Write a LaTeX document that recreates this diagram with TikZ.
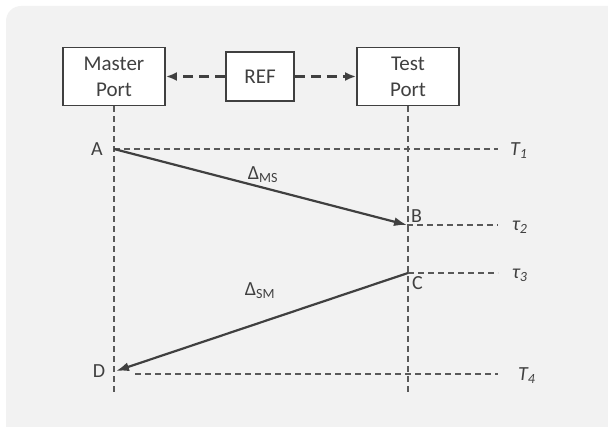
\documentclass[tikz,border=0pt]{standalone}
\usepackage{fontspec}
\setmainfont{Carlito}
\usepackage{tikz}
\usetikzlibrary{positioning}
\usetikzlibrary{arrows.meta}
\definecolor{bggray}{HTML}{F2F2F2}
\definecolor{linegray}{HTML}{404040}
\definecolor{dashgray}{HTML}{595959}

\begin{document}
\begin{tikzpicture}[x=1pt, y=-1pt,
    portnode/.style={rectangle, draw=linegray, fill=white, line width=1.8pt,
      minimum width=102pt, minimum height=58pt, align=center,
      text=linegray, font=\fontsize{21}{26}\selectfont},
    refnode/.style={portnode, minimum width=68pt, minimum height=49pt},
    lifeline/.style={draw=dashgray, line width=1.3pt, dash pattern=on 6pt off 4pt},
    refline/.style={draw=linegray, line width=2.2pt, dash pattern=on 10pt off 6pt,
      -{Latex[length=11pt, width=9pt]}},
    msgline/.style={draw=linegray, line width=2.2pt,
      -{Latex[length=13pt, width=9pt]}},
    pointlabel/.style={text=linegray, inner sep=1pt, font=\fontsize{20}{22}\selectfont},
    timelabel/.style={text=linegray, anchor=west, inner sep=1pt,
      font=\fontsize{20}{22}\itshape}, ]
    \useasboundingbox (0,0) rectangle (608,427);
    \clip (0,0) rectangle (608,427);
    \fill[bggray, rounded corners=15pt] (6,6) rectangle (640,460);
    % Nodes
    \node[portnode] (master) at (114,76.5) {Master\\Port};
    \node[refnode] (ref) at (260,76.5) {REF};
    \node[portnode] (test) at (408,76.5) {Test\\Port};
    \coordinate (mbot) at (114,395); \coordinate (tbot) at (408,395);
    \coordinate (A) at (114,149); \coordinate (B) at (407,225);
    \coordinate (C) at (408,273); \coordinate (D) at (116,371);
    \coordinate (t1end) at (498,149); \coordinate (t2end) at (498,225);
    \coordinate (t3end) at (498,273); \coordinate (t4start) at (135,374);
    \coordinate (t4end) at (498,374);
    \node[pointlabel] (lblA) at (97,149) {A};
    \node[pointlabel] (lblB) [above right=1pt and 3pt of B] {B};
    \node[pointlabel] (lblC) [below right=2pt and 3pt of C] {C};
    \node[pointlabel] (lblD) at (99,371) {D};
    \node[timelabel] (T1) at (509,151) {T\textsubscript{1}};
    \node[timelabel] (tau2) at (511,227) {τ\textsubscript{2}};
    \node[timelabel] (tau3) at (511,275) {τ\textsubscript{3}};
    \node[timelabel] (T4) at (517,376) {T\textsubscript{4}};
    \node[pointlabel] (dms) at (263,175) {Δ\textsubscript{MS}};
    \node[pointlabel] (dsm) at (260,291) {Δ\textsubscript{SM}};
    % Lines
    \draw[lifeline] (master.south) -- (mbot); \draw[lifeline] (test.south)
    -- (tbot); \draw[lifeline] (A) -- (t1end); \draw[lifeline] (B) --
    (t2end); \draw[lifeline] (C) -- (t3end); \draw[lifeline] (t4start)
    -- (t4end);
    \draw[refline] (ref.west) -- (master.east); \draw[refline] (ref.east)
    -- (test.west);
    \draw[msgline] (A) -- (B); \draw[msgline] (C) -- (D);
  \end{tikzpicture}
\end{document}
